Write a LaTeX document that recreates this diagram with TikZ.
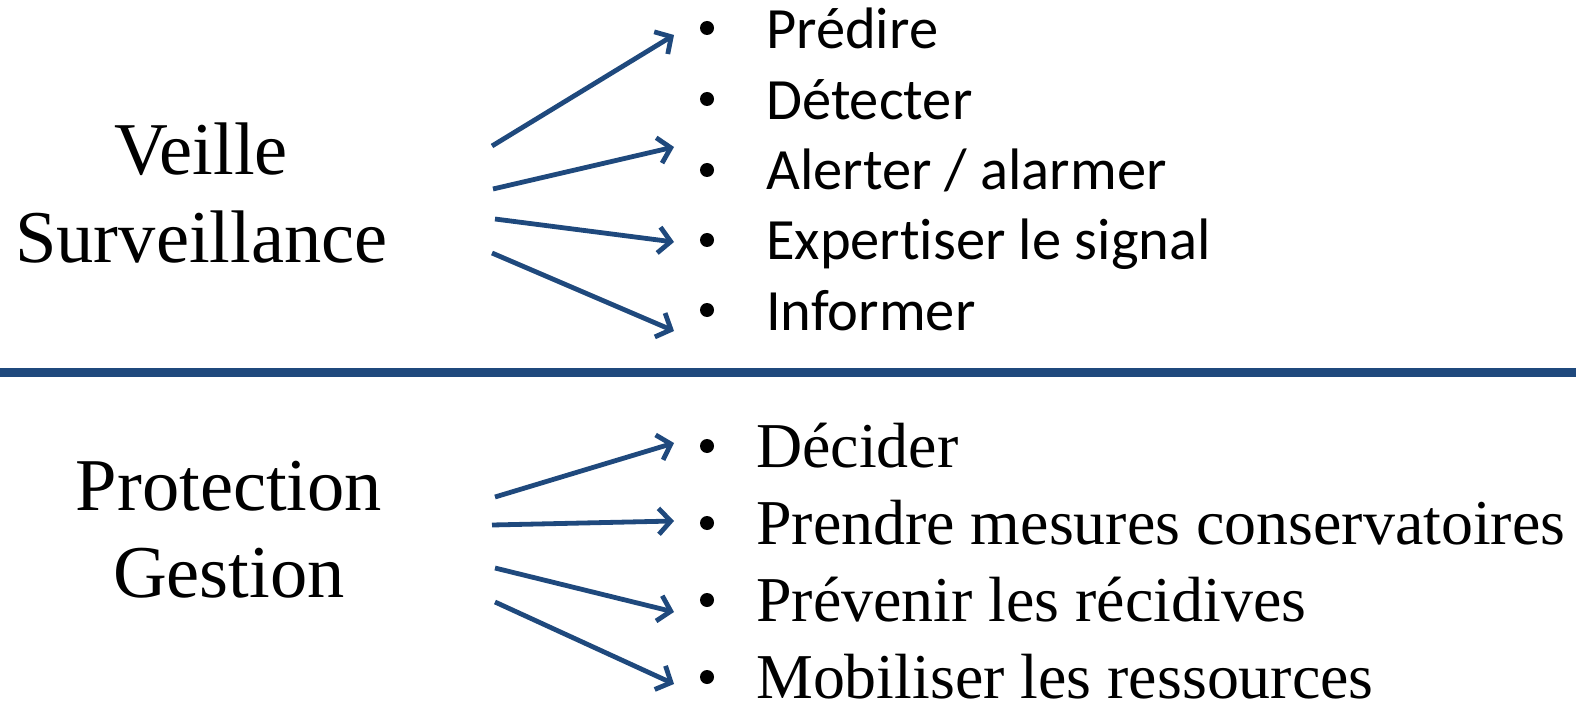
\documentclass[tikz,border=0pt]{standalone}
\usepackage{fontspec}
\setmainfont{Liberation Serif}
\newfontfamily\calib[Ligatures={NoCommon,NoRare,NoDiscretionary,NoContextual}]{Carlito}
\usetikzlibrary{arrows.meta}
\definecolor{navy}{RGB}{31,73,125}
\tikzset{
  x=1pt, y=-1pt,
  conn/.style={draw=navy, line width=4.8pt, -{Straight Barb[length=12pt,width=26pt]}},
  toptxt/.style={anchor=base west, inner sep=0pt, font=\calib\fontsize{58.5}{70}\selectfont},
  bottxt/.style={anchor=base west, inner sep=0pt, font=\fontsize{63.9}{76}\selectfont},
  lefttxt/.style={anchor=base, inner sep=0pt, font=\fontsize{74.5}{88}\selectfont},
  bul/.style={circle, fill=black, inner sep=0pt, minimum size=14pt}
}
\begin{document}
\begin{tikzpicture}
\useasboundingbox (0,0) rectangle (1576,703);
% left labels
\node[lefttxt] (veille) at (201,175) {Veille};
\node[lefttxt] (surv) at (201.5,262) {Surveillance};
\node[lefttxt] (prot) at (229,510) {Protection};
\node[lefttxt] (gest) at (229,597) {Gestion};
% separator
\coordinate (sepL) at (0,372.5);
\coordinate (sepR) at (1576,372.5);
\draw[navy, line width=9pt] (sepL) -- (sepR);
% top list
\node[bul] (b1) at (707,28) {};
\node[bul] (b2) at (707,99) {};
\node[bul] (b3) at (707,170) {};
\node[bul] (b4) at (707,240) {};
\node[bul] (b5) at (707,310) {};
\node[toptxt] (t1) at (766,49) {Prédire};
\node[toptxt] (t2) at (766,120) {Détecter};
\node[toptxt] (t3) at (766,190) {Alerter / alarmer};
\node[toptxt] (t4) at (766,260) {Expert\kern0pt iser le signal};
\node[toptxt] (t5) at (766,330) {Informer};
% bottom list
\node[bul] (c1) at (707,446) {};
\node[bul] (c2) at (707,523) {};
\node[bul] (c3) at (707,600) {};
\node[bul] (c4) at (707,677) {};
\node[bottxt] (u1) at (756,467) {Décider};
\node[bottxt] (u2) at (756,544) {Prendre mesures conservatoires};
\node[bottxt] (u3) at (756,621) {Prévenir les récidives};
\node[bottxt] (u4) at (756,698) {Mobiliser les ressources};
% arrow endpoints
\coordinate (s1) at (492,146); \coordinate (e1) at (674,35);
\coordinate (s2) at (493,189); \coordinate (e2) at (674,147);
\coordinate (s3) at (495,219); \coordinate (e3) at (674,242);
\coordinate (s4) at (492,253); \coordinate (e4) at (674,331);
\coordinate (p1) at (495,497); \coordinate (f1) at (674,443);
\coordinate (p2) at (492,525); \coordinate (f2) at (674,521);
\coordinate (p3) at (495,568); \coordinate (f3) at (674,612);
\coordinate (p4) at (495,602); \coordinate (f4) at (674,684);
\draw[conn] (s1) -- (e1);
\draw[conn] (s2) -- (e2);
\draw[conn] (s3) -- (e3);
\draw[conn] (s4) -- (e4);
\draw[conn] (p1) -- (f1);
\draw[conn] (p2) -- (f2);
\draw[conn] (p3) -- (f3);
\draw[conn] (p4) -- (f4);
\end{tikzpicture}
\end{document}
